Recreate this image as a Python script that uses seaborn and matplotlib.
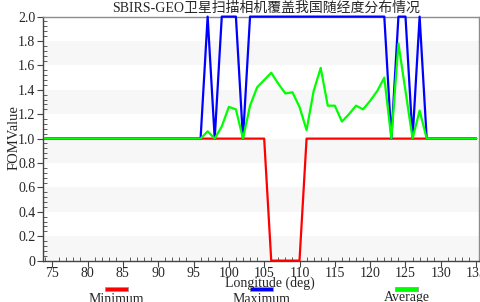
import matplotlib
matplotlib.use("Agg")
import matplotlib.pyplot as plt
from matplotlib.patches import Rectangle
from matplotlib.ticker import MultipleLocator, FuncFormatter
import seaborn as sns
import pandas as pd

# longitude samples (deg)
longitude = [74, 75, 76, 77, 78, 79, 80, 81, 82, 83,
             84, 85, 86, 87, 88, 89, 90, 91, 92, 93,
             94, 95, 96, 97, 98, 99, 100, 101, 102, 103,
             104, 105, 106, 107, 108, 109, 110, 111, 112, 113,
             114, 115, 116, 117, 118, 119, 120, 121, 122, 123,
             124, 125, 126, 127, 128, 129, 130, 131, 132, 133,
             134, 135]

fom_min = [1, 1, 1, 1, 1, 1, 1, 1, 1, 1,
           1, 1, 1, 1, 1, 1, 1, 1, 1, 1,
           1, 1, 1, 1, 1, 1, 1, 1, 1, 1,
           1, 1, 0, 0, 0, 0, 0, 1, 1, 1,
           1, 1, 1, 1, 1, 1, 1, 1, 1, 1,
           1, 1, 1, 1, 1, 1, 1, 1, 1, 1,
           1, 1]

fom_max = [1, 1, 1, 1, 1, 1, 1, 1, 1, 1,
           1, 1, 1, 1, 1, 1, 1, 1, 1, 1,
           1, 1, 1, 2, 1, 2, 2, 2, 1, 2,
           2, 2, 2, 2, 2, 2, 2, 2, 2, 2,
           2, 2, 2, 2, 2, 2, 2, 2, 2, 1,
           2, 2, 1, 2, 1, 1, 1, 1, 1, 1,
           1, 1]

fom_avg = [1, 1, 1, 1, 1, 1, 1, 1, 1, 1,
           1, 1, 1, 1, 1, 1, 1, 1, 1, 1,
           1, 1, 1, 1.06, 1, 1.10, 1.26, 1.24, 1, 1.27,
           1.42, 1.48, 1.54, 1.45, 1.37, 1.38, 1.26, 1.07, 1.39, 1.58,
           1.27, 1.27, 1.14, 1.20, 1.27, 1.24, 1.31, 1.39, 1.50, 1.0,
           1.78, 1.39, 1.0, 1.23, 1, 1, 1, 1, 1, 1,
           1, 1]

series_names = ["Minimum", "Maximum", "Average"]
series_colors = ["#ff0000", "#0000ff", "#00ff00"]

df = pd.DataFrame({
    "lon": longitude * 3,
    "value": fom_min + fom_max + fom_avg,
    "series": ["Minimum"] * len(longitude) + ["Maximum"] * len(longitude) + ["Average"] * len(longitude),
})

sns.set_style("white")
plt.rcParams['font.family'] = ['Liberation Serif', 'Noto Sans CJK SC']

fig = plt.figure(figsize=(4.81, 3.02), dpi=100)
ax = fig.add_axes([0.0894, 0.137, 0.9064, 0.808])

# alternating grey bands
for lo in [0.0, 0.4, 0.8, 1.2, 1.6]:
    ax.axhspan(lo, lo + 0.2, color="#f7f7f7", zorder=0, lw=0)

sns.lineplot(data=df, x="lon", y="value", hue="series", hue_order=series_names,
             palette=series_colors, linewidth=1.6, legend=False, ax=ax, zorder=3)
for ln in ax.lines:
    ln.set_clip_on(False)
ax.set_xlabel("")
ax.set_ylabel("")

ax.set_xlim(73.7, 135.4)
ax.set_ylim(0, 2.0)
ax.xaxis.set_major_locator(MultipleLocator(5))
ax.xaxis.set_minor_locator(MultipleLocator(1))
ax.yaxis.set_major_locator(MultipleLocator(0.2))
ax.yaxis.set_minor_locator(MultipleLocator(0.04))
ax.yaxis.set_major_formatter(FuncFormatter(lambda v, p: "0" if abs(v) < 1e-9 else f"{v:.1f}"))

ax.tick_params(axis="both", which="major", direction="out", length=4, width=0.8,
               labelsize=10, color="#444444", pad=1.5)
ax.tick_params(axis="x", which="major", pad=0.5)
ax.tick_params(axis="both", which="minor", direction="in", length=3, width=0.6, color="#444444")
ax.tick_params(axis="x", which="both", bottom=True)
ax.tick_params(axis="y", which="both", left=True)

for side in ["top", "right"]:
    ax.spines[side].set_color("#8c8c8c")
for side in ["left", "bottom"]:
    ax.spines[side].set_color("#444444")
for s in ax.spines.values():
    s.set_linewidth(1.0)

fig.text(0.561, 1 - 277 / 302, "Longitude (deg)", ha="center", va="top", fontsize=10)
fig.text(0.029, 0.546, "FOMValue", ha="center", va="center", rotation=90, fontsize=10.5)
fig.text(0.553, 1 - 1.5 / 302, "SBIRS-GEO卫星扫描相机覆盖我国随经度分布情况",
         ha="center", va="top", fontsize=10)

# legend: colour bar above each label
legend_x = [0.242, 0.543, 0.845]
legend_top = [0.031, 0.031, 0.038]
for name, col, cx, ty in zip(series_names, series_colors, legend_x, legend_top):
    fig.add_artist(Rectangle((cx - 0.024, 0.0375), 0.048, 0.012, transform=fig.transFigure,
                             facecolor=col, edgecolor="#999999", lw=0.6))
    fig.text(cx, ty, name, ha="center", va="top", fontsize=10)

fig.savefig("out.png", dpi=100)
